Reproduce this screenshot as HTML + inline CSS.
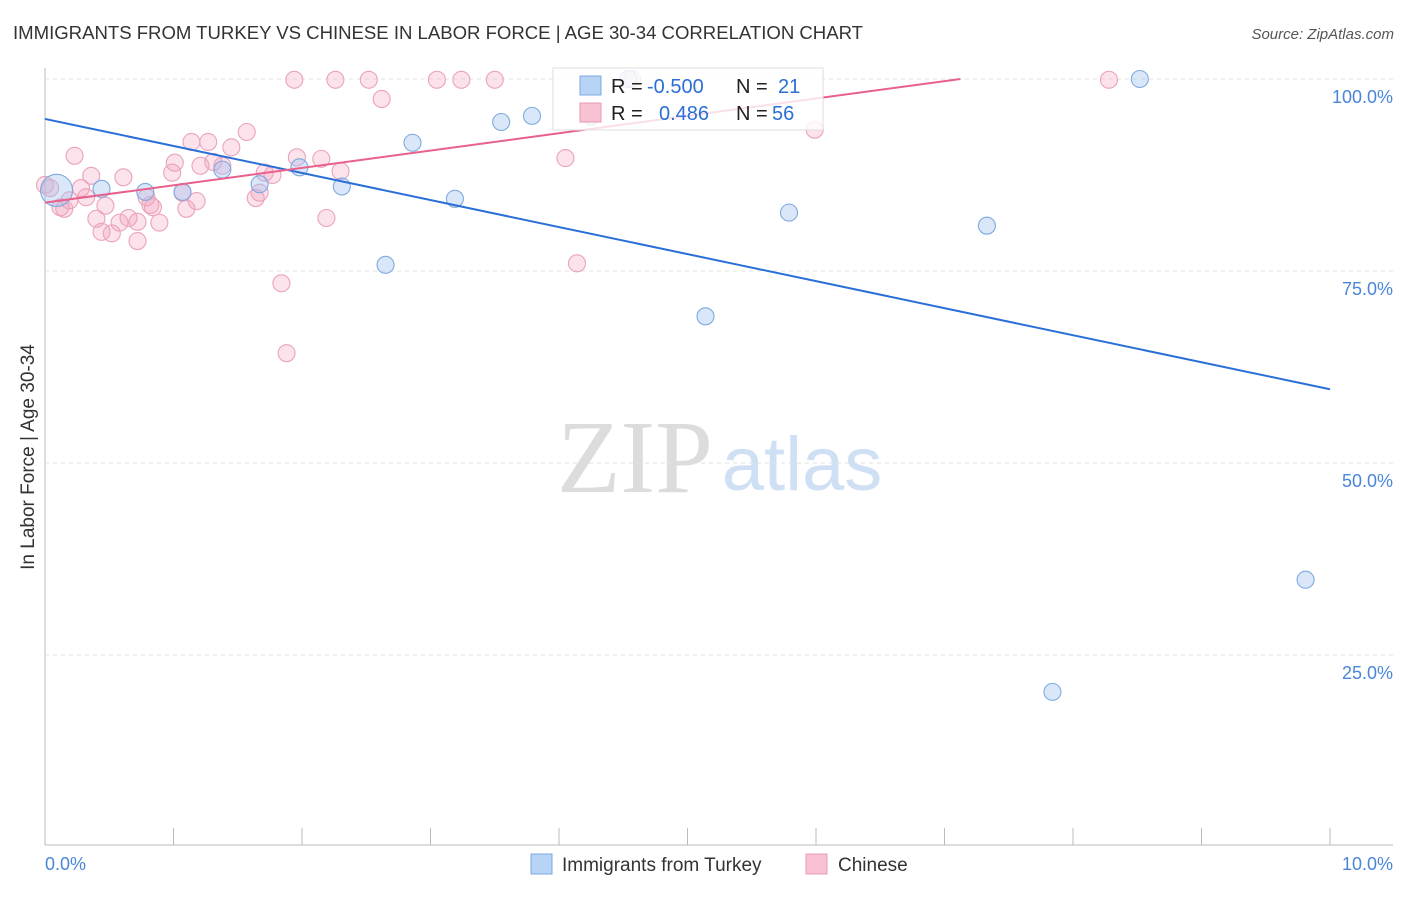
<!DOCTYPE html>
<html><head><meta charset="utf-8"><style>
body{margin:0;background:#fff;font-family:"Liberation Sans",sans-serif;}
svg text{font-family:"Liberation Sans",sans-serif;}
</style></head><body>
<svg id="c" width="1406" height="892">
<text x="13" y="39" font-size="18.6" fill="#333" textLength="850">IMMIGRANTS FROM TURKEY VS CHINESE IN LABOR FORCE | AGE 30-34 CORRELATION CHART</text>
<text x="1394" y="39" font-size="15" fill="#555" font-style="italic" text-anchor="end">Source: ZipAtlas.com</text>
<text x="0" y="0" transform="translate(34,457) rotate(-90)" font-size="19" fill="#333" text-anchor="middle">In Labor Force | Age 30-34</text>
<g><text x="635" y="492" font-size="104" fill="#dcdcdc" font-family="Liberation Serif" style="font-family:'Liberation Serif',serif" text-anchor="middle">ZIP</text><text x="802" y="490" font-size="76" fill="#cfe0f4" text-anchor="middle">atlas</text></g>
<g id="grid"></g><g id="marks"></g>
<g>
<rect x="553" y="68" width="270" height="62" fill="#fff" fill-opacity="0.8" stroke="#ddd"/>
<rect x="580" y="76" width="21" height="19" fill="#b7d3f5" stroke="#7aaae0"/>
<rect x="580" y="103" width="21" height="19" fill="#f8c2d3" stroke="#e899b4"/>
<text x="611" y="93" font-size="20" fill="#222">R = <tspan x="647" fill="#2a6fd6">-0.500</tspan><tspan x="736">N = </tspan><tspan x="778" fill="#2a6fd6">21</tspan></text>
<text x="611" y="120" font-size="20" fill="#222">R = <tspan x="659" fill="#2a6fd6">0.486</tspan><tspan x="736">N = </tspan><tspan x="772" fill="#2a6fd6">56</tspan></text>
</g>
<g>
<rect x="531" y="854" width="21" height="20" fill="#b7d3f5" stroke="#7aaae0"/>
<text x="562" y="871" font-size="19" fill="#333">Immigrants from Turkey</text>
<rect x="806" y="854" width="21" height="20" fill="#f8c2d3" stroke="#e899b4"/>
<text x="838" y="871" font-size="19" fill="#333">Chinese</text>
</g>
</svg>
<script>
const xTicks=[0,1,2,3,4,5,6,7,8,9,10];
const yTicks=[25,50,75,100];
const yTickLabels=["25.0%","50.0%","75.0%","100.0%"];
const turkeyX=[0.09,0.44,0.78,1.07,1.38,1.67,1.98,2.31,2.65,2.86,3.19,3.55,3.79,4.25,4.54,5.14,5.79,7.33,7.84,8.52,9.81];
const turkeyY=[85.5,85.7,85.3,85.3,88.2,86.3,88.5,86.0,75.8,91.7,84.4,94.4,95.2,95.1,100,69.1,82.6,80.9,20.2,100,34.8];
const chineseX=[1.94,2.26,2.52,2.62,3.05,3.24,3.50,4.57,8.28,5.99,4.05,4.14,0.23,0.36,0.61,0.28,0.32,0.04,0.12,0.15,0.19,0.47,0.40,0.44,0.52,0.58,0.65,0.72,0.72,0.89,0.82,0.84,0.79,1.01,0.99,1.14,1.27,1.21,1.45,1.57,1.31,1.38,1.07,1.10,1.18,1.64,1.67,1.71,1.77,1.96,2.15,2.30,2.19,1.84,1.88,0.0];
const chineseY=[99.9,99.9,99.9,97.4,99.9,99.9,99.9,100,99.9,93.4,89.7,76.0,90.0,87.4,87.2,85.8,84.6,85.8,83.3,83.1,84.2,83.5,81.8,80.1,79.9,81.3,81.9,81.4,78.9,81.3,83.6,83.3,84.6,89.1,87.8,91.8,91.8,88.7,91.1,93.1,89.2,88.7,85.2,83.1,84.1,84.5,85.2,87.8,87.5,89.8,89.6,88.0,81.9,73.4,64.3,86.2];
const turkeyTrend=[94.8,59.6];
const chineseTrend=[83.9,2.26];
const X=v=>45+v*128.5, Y=v=>847-v*7.68;
const NS="http://www.w3.org/2000/svg";
function mk(t,a,p){const e=document.createElementNS(NS,t);for(const k in a)e.setAttribute(k,a[k]);p.appendChild(e);return e;}
const g=document.getElementById('grid'), m=document.getElementById('marks');
mk('line',{x1:45,y1:68,x2:45,y2:845,stroke:'#bbb'},g);
mk('line',{x1:45,y1:845,x2:1393,y2:845,stroke:'#bbb'},g);
yTicks.forEach((t,i)=>{
 const l=mk('line',{x1:45,y1:Y(t),x2:1393,y2:Y(t),stroke:'#e2e2e2','stroke-dasharray':'4,4'},g);
 
 
 const tx=mk('text',{x:1393,y:Y(t)+24,'font-size':18,fill:'#4a86d8','text-anchor':'end'},g);
 tx.textContent=yTickLabels[i];
 
 
});
xTicks.forEach(t=>{
 const l=mk('line',{x1:X(t),y1:828,x2:X(t),y2:845,stroke:'#bbb'},g);
 
 
});
const x0=mk('text',{x:45,y:870,'font-size':18,fill:'#4a86d8'},g);x0.textContent='0.0%';


const x1=mk('text',{x:1393,y:870,'font-size':18,fill:'#4a86d8','text-anchor':'end'},g);x1.textContent='10.0%';


chineseX.forEach((v,i)=>{
 const c=mk('circle',{cx:X(v),cy:Y(chineseY[i]),r:8.5,fill:'rgba(242,160,188,0.3)',stroke:'#eaa3bc','stroke-width':1.1},m);
 
 
});
turkeyX.forEach((v,i)=>{
 const c=mk('circle',{cx:X(v),cy:Y(turkeyY[i]),r:i==0?16:8.5,fill:'rgba(160,196,240,0.4)',stroke:'#7eaade','stroke-width':1.1},m);
 
 
});
const bl=mk('line',{x1:X(0),y1:Y(turkeyTrend[0]),x2:X(10),y2:Y(turkeyTrend[1]),stroke:'#2a6fd6','stroke-width':2},m);


const xe=Math.min(10,(100-chineseTrend[0])/chineseTrend[1]);
const pl=mk('line',{x1:X(0),y1:Y(chineseTrend[0]),x2:X(xe),y2:Y(chineseTrend[0]+chineseTrend[1]*xe),stroke:'#e8608c','stroke-width':2},m);


</script>
</body></html>
